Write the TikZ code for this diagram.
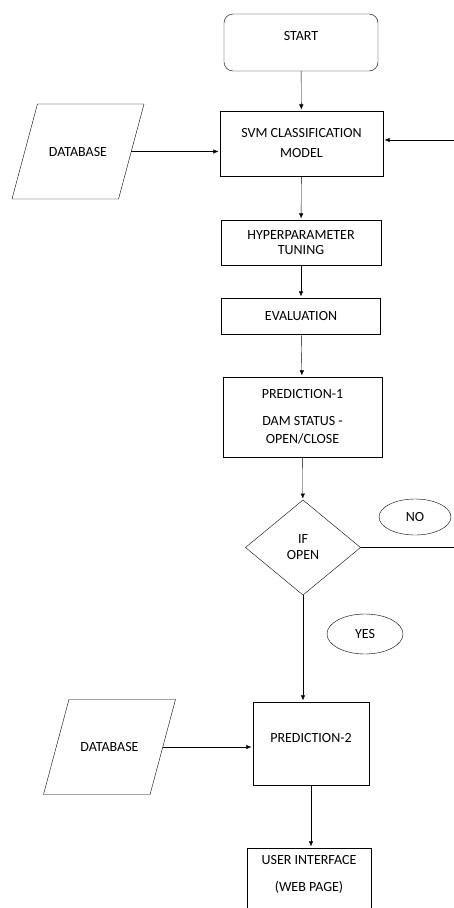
\documentclass[tikz,border=0pt]{standalone}
\usepackage{fontspec}
\setmainfont{Carlito}
\usetikzlibrary{shapes.geometric, arrows.meta}

\begin{document}
\begin{tikzpicture}[x=1pt, y=-1pt]
\tikzset{ >={Latex[length=7pt,width=6pt]}, inner sep=0pt, outer sep=0pt, line width=1.3pt,
  every node/.style={font=\fontsize{14}{17}\selectfont, align=center},
  proc/.style={draw, rectangle},
  dbase/.style={draw, trapezium, trapezium left angle=75, trapezium right angle=105,
                trapezium stretches body=true, text height=9pt, text depth=0pt,
                inner ysep=43pt, minimum width=132pt},
  tag/.style={draw, ellipse},
}

\clip (0,0) rectangle (454,908);

%\draw [lightgray, dashed](0,0) grid [step=50] (454,908);

% start and model
\node [proc, rounded corners=9pt, minimum width=154pt, minimum height=57pt,
       text height=9pt, text depth=13pt] (start) at (301,42.5) {START};
\node [proc, minimum width=163pt, minimum height=65pt] (svm) at (301.5,143.5) {SVM CLASSIFICATION\\[3pt]MODEL};
\node [dbase] (dbA) at (78,151.5) {DATABASE};

\draw [->] (start) -- (svm);
\draw [->] (dbA.east) -- (dbA.east -| svm.west);

% loop back (NO)
\coordinate (back) at (454,140);
\draw [->] (back) -- (back -| svm.east);

% tuning, evaluation
\node [proc, minimum width=160pt, minimum height=45pt] (tune) at (301,242.5) {HYPERPARAMETER\\[-2pt]TUNING};
\node [proc, minimum width=159pt, minimum height=36pt] (eval) at (301,316) {EVALUATION};
\node [proc, minimum width=159pt, minimum height=80pt] (predA) at (302.5,417) {PREDICTION-1\\[10pt]DAM STATUS -\\[1pt]OPEN/CLOSE};

\draw [->] (svm) -- (tune);
\draw [->] (tune) -- (eval);
\draw [->] (eval) -- (predA);

% decision
\node [draw, diamond, aspect=1.2, minimum width=115pt, minimum height=95pt] (open) at (303,547.5) {IF\\[-1pt]OPEN};
\node [tag, minimum width=72pt, minimum height=36pt] (no) at (415,517) {NO};
\node [tag, minimum width=76pt, minimum height=40pt] (yes) at (365,634) {YES};

\draw [->] (predA) -- (open);
\coordinate (out) at (454,547.5);
\draw (open.east) -- (out);

% second prediction
\node [proc, minimum width=116pt, minimum height=83pt,
       text height=9pt, text depth=11pt] (predB) at (311,743.5) {PREDICTION-2};
\node [dbase] (dbB) at (109.5,747) {DATABASE};
\node [proc, anchor=north, minimum width=124pt, inner ysep=7pt] (web) at (309,848)
      {USER INTERFACE\\[10pt](WEB PAGE)\rule[-24pt]{0pt}{24pt}};

\draw [->] (open.south) -- (open.south |- predB.north);
\draw [->] (dbB.east) -- (dbB.east -| predB.west);
\draw [->] (predB.south) -- (predB.south |- web.north);

\end{tikzpicture}
\end{document}
